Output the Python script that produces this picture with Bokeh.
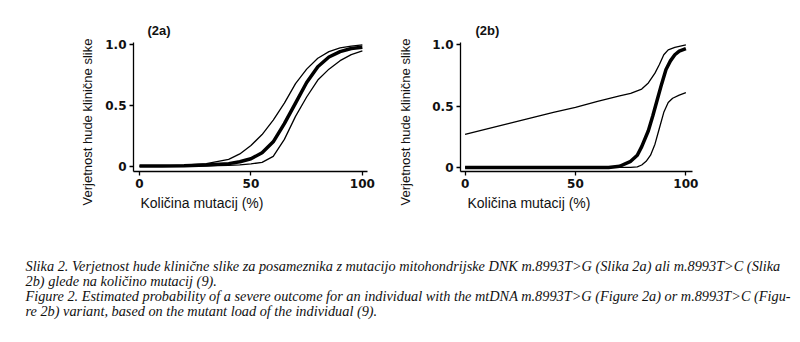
from bokeh.plotting import figure
from bokeh.models import Range1d, FixedTicker, Label, Title
from bokeh.layouts import column, row
from bokeh.embed import file_html
from bokeh.resources import INLINE

# ---- data ----
xa = [0, 10, 20, 30, 40, 45, 50, 55, 60, 65, 70, 75, 80, 85, 90, 95, 100]
a_mid = [0.0, 0.0, 0.003, 0.008, 0.02, 0.035, 0.06, 0.11, 0.2, 0.35, 0.52, 0.69, 0.82, 0.9, 0.945, 0.97, 0.98]
a_up = [0.0, 0.002, 0.008, 0.02, 0.055, 0.1, 0.17, 0.26, 0.38, 0.52, 0.68, 0.8, 0.89, 0.945, 0.975, 0.99, 1.0]
a_lo = [0.0, 0.0, 0.0, 0.002, 0.006, 0.01, 0.018, 0.03, 0.08, 0.22, 0.41, 0.57, 0.71, 0.8, 0.87, 0.92, 0.95]

xb_mid = [0, 20, 40, 60, 65, 70, 75, 78, 80, 83, 85, 87, 89, 91, 93, 95, 97, 100]
b_mid = [0.0, 0.0, 0.0, 0.0, 0.0, 0.01, 0.05, 0.1, 0.17, 0.3, 0.42, 0.55, 0.68, 0.8, 0.87, 0.92, 0.95, 0.97]
xb_up = [0, 10, 20, 30, 40, 50, 60, 70, 75, 80, 83, 86, 88, 90, 92, 95, 100]
b_up = [0.27, 0.315, 0.36, 0.405, 0.45, 0.49, 0.54, 0.585, 0.605, 0.64, 0.69, 0.77, 0.84, 0.92, 0.96, 0.98, 1.0]
xb_lo = [0, 20, 40, 60, 75, 78, 80, 82, 84, 86, 88, 90, 92, 94, 97, 100]
b_lo = [0.0, 0.0, 0.0, 0.0, 0.0, 0.005, 0.02, 0.05, 0.1, 0.19, 0.32, 0.45, 0.53, 0.565, 0.59, 0.61]

x_ticks = [0, 50, 100]
y_ticks = [0, 0.5, 1.0]
y_tick_labels = {0: "0", 0.5: "0.5", 1: "1.0"}
panel_titles = ["(2a)", "(2b)"]
x_label = "Količina mutacij (%)"
y_label = "Verjetnost hude  klinične slike"
caption = [
    "Slika 2. Verjetnost hude klinične slike za posameznika z mutacijo mitohondrijske DNK m.8993T>G (Slika 2a) ali m.8993T>C (Slika",
    "2b) glede na količino mutacij (9).",
    "Figure 2. Estimated probability of a severe outcome for an individual with the mtDNA m.8993T>G (Figure 2a) or m.8993T>C (Figu-",
    "re 2b) variant, based on the mutant load of the individual (9).",
]

PH = 225


def make_panel(xr, yr, left, fw, width, title, title_off, ylab_standoff, curves):
    p = figure(width=width, height=PH, x_range=Range1d(*xr), y_range=Range1d(*yr),
               output_backend="svg", toolbar_location=None,
               min_border_left=left, min_border_right=width - left - fw,
               min_border_top=42, min_border_bottom=PH - 42 - 129)
    p.outline_line_color = None
    p.grid.visible = False
    p.background_fill_color = "white"
    p.border_fill_color = "white"
    for ax in (p.xaxis[0], p.yaxis[0]):
        ax.axis_line_color = "black"
        ax.axis_line_width = 1.3
        ax.major_tick_line_color = "black"
        ax.major_tick_line_width = 1.3
        ax.major_tick_in = 0
        ax.major_tick_out = 4
        ax.minor_tick_line_color = None
        ax.major_label_text_font = "DejaVu Sans"
        ax.major_label_text_font_style = "bold"
        ax.major_label_text_font_size = "12px"
        ax.major_label_text_color = "#111111"
    p.xaxis.ticker = FixedTicker(ticks=x_ticks)
    p.yaxis.ticker = FixedTicker(ticks=y_ticks)
    p.yaxis.major_label_overrides = y_tick_labels
    p.xaxis.major_label_standoff = 3
    p.yaxis.major_label_standoff = 3
    for xs, ys, w in curves:
        p.line(xs, ys, line_color="black", line_width=w)
    p.add_layout(Title(text=title, align="left", offset=title_off, standoff=9,
                       text_font="Liberation Sans", text_font_style="bold",
                       text_font_size="13px", text_color="#111111"), "above")
    p.add_layout(Title(text=x_label, align="left", offset=7, standoff=4,
                       text_font="Liberation Sans", text_font_style="normal",
                       text_font_size="14px", text_color="#111111"), "below")
    p.add_layout(Title(text=y_label, align="left", offset=-34, standoff=ylab_standoff,
                       text_font="Liberation Sans", text_font_style="normal",
                       text_font_size="13px", text_color="#111111"), "left")
    return p


pa = make_panel((-2.7, 102.3), (-0.045, 1.02), 133, 234, 378, panel_titles[0], 14, 15,
                [(xa, a_up, 1.3), (xa, a_lo, 1.3), (xa, a_mid, 3.5)])
pb = make_panel((-2.07, 103.0), (-0.033, 1.02), 80, 234, 422, panel_titles[1], 15, 34,
                [(xb_up, b_up, 1.3), (xb_lo, b_lo, 1.3), (xb_mid, b_mid, 3.5)])

pc = figure(width=800, height=342 - PH, x_range=Range1d(0, 800), y_range=Range1d(342 - PH, 0),
            output_backend="svg", toolbar_location=None, min_border=0)
pc.axis.visible = False
pc.grid.visible = False
pc.outline_line_color = None
for i, line in enumerate(caption):
    pc.add_layout(Label(x=25, y=40 + 15 * i, text=line, text_font="Liberation Serif",
                        text_font_style="italic", text_font_size="14.3px",
                        text_color="#111111", text_baseline="alphabetic"))

layout = column(row(pa, pb), pc)
open("out.html", "w").write(file_html(layout, INLINE))
